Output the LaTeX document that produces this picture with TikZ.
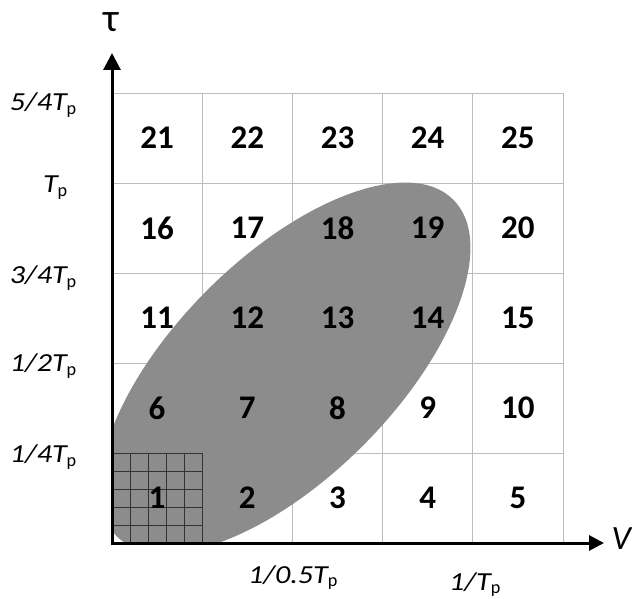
\documentclass[tikz,border=0pt]{standalone}
\usepackage{fontspec}
\setmainfont{Carlito}
\newfontfamily\labfont[FakeStretch=1.16]{Carlito}
\usetikzlibrary{arrows.meta}
\newcommand{\Tsub}{\textit{T}\textsubscript{\normalfont p}}
\tikzset{
  gridline/.style={draw=black!26, line width=0.9pt},
  subgrid/.style={draw=black!80, line width=0.9pt},
  axisline/.style={line width=3pt, {Triangle[length=17pt,width=17pt]}-{Triangle[length=15pt,width=15pt]}},
  num/.style={font=\fontsize{33}{38}\selectfont\bfseries, inner sep=0pt},
  lab/.style={font=\labfont\fontsize{26}{30}\selectfont\itshape, inner sep=0pt},
  big/.style={font=\fontsize{34}{40}\selectfont, inner sep=0pt}
}
\begin{document}
\begin{tikzpicture}[x=1pt,y=1pt]
\useasboundingbox (0,0) rectangle (632,598);
% grid lines
\foreach \i in {0,...,5} {
  \draw[gridline] (112+90.2*\i,55) -- (112+90.2*\i,505);
  \draw[gridline] (112,55+90*\i) -- (563,55+90*\i);
}
% shaded ellipse
\begin{scope}
  \clip (112,55) rectangle (563,505);
  \fill[black!45] (285,230) ellipse[x radius=238, y radius=110, rotate=45];
\end{scope}
% sub grid in cell 1
\foreach \k in {0,...,5} {
  \draw[subgrid] (112+18.04*\k,55) -- (112+18.04*\k,145);
  \draw[subgrid] (112,55+18*\k) -- (202.2,55+18*\k);
}
% numbers
\foreach \r in {1,...,5} {
  \foreach \c in {1,...,5} {
    \pgfmathtruncatemacro{\n}{5*(\r-1)+\c}
    \node[num] (n\n) at (112+90.2*\c-45.1, 55+90*\r-45) {\n};
  }
}
% axes
\coordinate (ytip) at (112,545);
\coordinate (orig) at (112,55);
\coordinate (xtip) at (604,55);
\draw[axisline] (ytip) -- (orig) -- (xtip);
\node[font=\fontsize{40}{46}\selectfont, inner sep=0pt, anchor=base] (tau) at (111,566) {τ};
\node[big, anchor=base] (vlab) at (622,49) {\textit{V}};
% tau labels
\node[lab, anchor=base east] (l5) at (77,487.5) {5/4\Tsub};
\node[lab, anchor=base east] (l4) at (68,405.5) {\Tsub};
\node[lab, anchor=base east] (l3) at (77,314.5) {3/4\Tsub};
\node[lab, anchor=base east] (l2) at (77,226.5) {1/2\Tsub};
\node[lab, anchor=base east] (l1) at (77,135.5) {1/4\Tsub};
% v labels
\node[lab, anchor=base] (v1) at (293,15) {1/0.5\Tsub};
\node[lab, anchor=base] (v2) at (475,8) {1/\Tsub};
\end{tikzpicture}
\end{document}
